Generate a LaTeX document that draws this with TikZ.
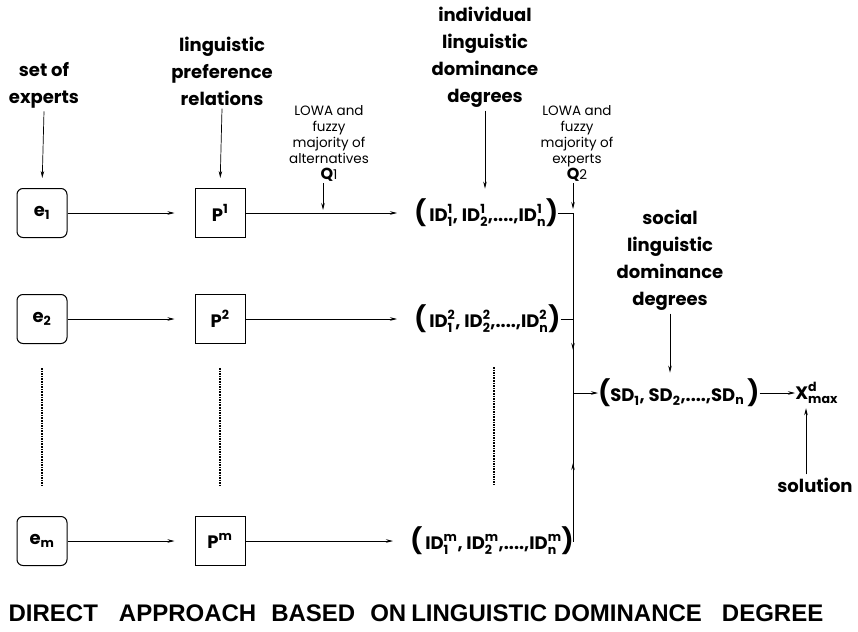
\documentclass[tikz,border=0pt]{standalone}
\usepackage{amsmath}
\usepackage{fontspec}
\setmainfont{Poppins}
\newfontfamily\titlefont{Liberation Sans}[BoldFont={Liberation Sans Bold}]
\usepackage{tikz}
\usetikzlibrary{arrows.meta,positioning}

\newcommand{\ids}[2]{$\text{ID}^{\text{#1}}_{\text{#2}}$}
\newcommand{\sds}[1]{$\text{SD}_{\text{#1}}$}
\newcommand{\bigpar}[1]{{\fontsize{25}{25}\selectfont #1}}

\begin{document}
\begin{tikzpicture}[x=1pt,y=-1pt,>={Stealth[length=7pt,width=3.5pt]},line width=0.7pt,
  lbl/.style={font=\bfseries\fontsize{18}{27}\selectfont,align=center,inner sep=3pt},
  note/.style={font=\fontsize{13.5}{16}\selectfont,align=center,inner sep=2pt},
  exbox/.style={draw,line width=1pt,rounded corners=6pt,minimum width=50pt,minimum height=49pt,font=\bfseries\fontsize{18}{20}\selectfont},
  relbox/.style={draw,line width=1pt,minimum width=50pt,minimum height=49pt,font=\bfseries\fontsize{18}{20}\selectfont},
  tup/.style={anchor=west,inner sep=0pt,font=\bfseries\fontsize{18}{20}\selectfont},
  ttl/.style={font=\titlefont\bfseries\fontsize{24}{26}\selectfont}]
  \useasboundingbox (0,0) rectangle (858,631);
  % headings
  \node[lbl] (expl) at (44,85) {set of\\experts};
  \node[lbl] (rell) at (222,71) {linguistic\\preference\\relations};
  \node[lbl] (idl) at (485,57) {individual\\linguistic\\dominance\\degrees};
  \node[lbl] (sdl) at (670,260) {social\\linguistic\\dominance\\degrees};
  \node[lbl] (sol) at (815,485) {solution};
  \node[note] (q1l) at (329,143) {LOWA and\\fuzzy\\majority of\\alternatives\\{\bfseries\fontsize{16}{16}\selectfont Q}1};
  \node[note] (q2l) at (577,143) {LOWA and\\fuzzy\\majority of\\experts\\{\bfseries\fontsize{16}{16}\selectfont Q}2};
  % experts and their relations
  \node[exbox] (e1) at (42,213) {$\text{e}_{\text{1}}$};
  \node[exbox] (e2) at (42,319) {$\text{e}_{\text{2}}$};
  \node[exbox] (em) at (42,541) {$\text{e}_{\text{m}}$};
  \node[relbox] (p1) at (220,213) {$\text{P}^{\text{1}}$};
  \node[relbox] (p2) at (220,319) {$\text{P}^{\text{2}}$};
  \node[relbox] (pm) at (220,541) {$\text{P}^{\text{m}}$};
  % individual degrees
  \node[tup] (t1) at (414,213) {\bigpar{(}\,\ids{1}{1}, \ids{1}{2},....,\ids{1}{n}\bigpar{)}};
  \node[tup] (t2) at (414,319) {\bigpar{(}\,\ids{2}{1}, \ids{2}{2},....,\ids{2}{n}\bigpar{)}};
  \node[tup] (tm) at (410,541) {\bigpar{(}\,\ids{m}{1}, \ids{m}{2},....,\ids{m}{n}\bigpar{)}};
  % social degrees and solution
  \node[tup] (sd) at (598,393) {\bigpar{(}\sds{1}, \sds{2},....,\sds{n}\,\bigpar{)}};
  \node[tup] (xm) at (795,393) {$\text{X}^{\text{d}}_{\text{max}}$};
  \node[ttl] (title) at (416,613) {DIRECT\hspace{21pt}APPROACH\hspace{15pt}BASED\hspace{15pt}ON\hspace{5pt}LINGUISTIC DOMINANCE\hspace{20pt}DEGREE};
  \coordinate (bt) at (573,205);
  \coordinate (dn) at (573,350);
  \coordinate (up) at (573,463);
  % connectors
  \draw[->,shorten >=10pt] (expl.south) -- (e1.north);
  \draw[->,shorten >=10pt] (rell.south) -- (p1.north);
  \draw[->,shorten >=10pt] (idl.south) -- (idl.south |- t1.north);
  \draw[->,shorten >=3pt] ([xshift=-6pt]q1l.south) -- ([xshift=-6pt]q1l.south |- p1.east);
  \draw[->,shorten >=4pt] (q2l.south -| bt) -- (t1.east -| bt);
  \foreach \r in {1,2,m}{
    \draw[->,shorten >=20pt] (e\r) -- (p\r);
    \draw[->,shorten >=17pt] (p\r.east) -- (p\r.east -| t\r.west);
  }
  \draw (t1.east) -- (t1.east -| bt) -- (tm.east -| bt) -- (tm.east);
  \draw (t2.east) -- (t2.east -| bt);
  \draw[->] (t2.east -| bt) -- (dn);
  \draw[->] (tm.east -| bt) -- (up);
  \draw[->] (sd.west -| bt) -- (sd.west);
  \draw[->] (sd.east) -- (xm.west);
  \draw[->,shorten >=6pt] (sdl.south) -- (sdl.south |- sd.north);
  \draw[->,shorten >=4pt] ([xshift=-9pt]sol.north) -- ([xshift=-9pt]sol.north |- xm.south);
  % dotted columns
  \draw[densely dotted,line width=1.6pt] ([yshift=-24pt]e2.south) -- ([yshift=30pt]em.north);
  \draw[densely dotted,line width=1.6pt] ([yshift=-24pt]p2.south) -- ([yshift=30pt]pm.north);
  \draw[densely dotted,line width=1.6pt] (494,367) -- (494,485);
\end{tikzpicture}
\end{document}
